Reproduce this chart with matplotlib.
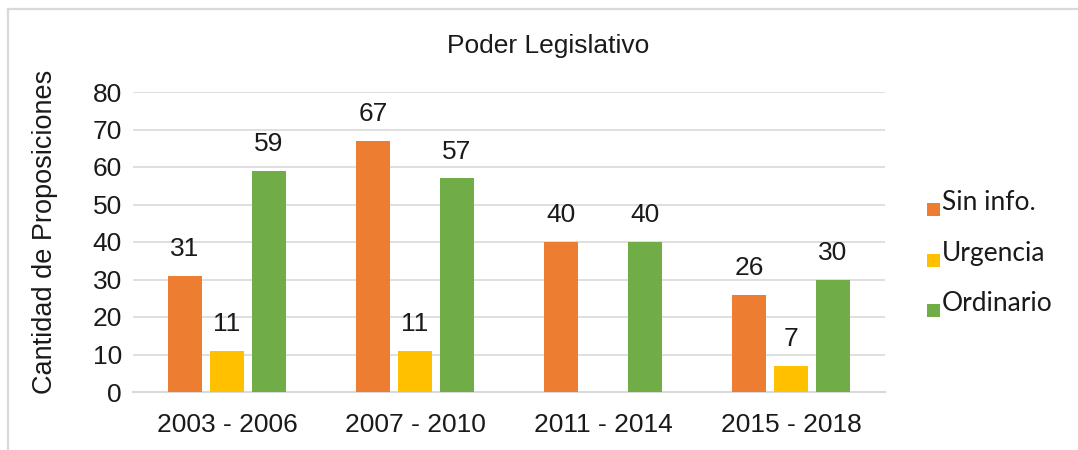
import numpy as np
import matplotlib
matplotlib.use("Agg")
import matplotlib.pyplot as plt
from matplotlib.lines import Line2D
from matplotlib.patches import Rectangle

# ---- data ----
categories = ["2003 - 2006", "2007 - 2010", "2011 - 2014", "2015 - 2018"]
series_names = ["Sin info.", "Urgencia", "Ordinario"]
sin_info = [31, 67, 40, 26]
urgencia = [11, 11, None, 7]
ordinario = [59, 57, 40, 30]
y_ticks = [0, 10, 20, 30, 40, 50, 60, 70, 80]
title = "Poder Legislativo"
y_label = "Cantidad de Proposiciones"

colors = ["#ED7D31", "#FFC000", "#70AD47"]
W, H = 1078, 450
fig = plt.figure(figsize=(W / 100, H / 100), dpi=100)
fig.patch.set_facecolor("white")

main_font = ["Liberation Sans", "DejaVu Sans"]
leg_font = ["Lato", "DejaVu Sans"]

ax = fig.add_axes([133 / W, 1 - 392 / H, (885 - 133) / W, 300 / H])
x = np.arange(len(categories))
width = 0.18
offsets = [-0.223, 0.0, 0.223]
for vals, off, col in zip([sin_info, urgencia, ordinario], offsets, colors):
    v = np.array([np.nan if a is None else a for a in vals], dtype=float)
    bars = ax.bar(x + off, np.nan_to_num(v), width, color=col, zorder=3)
    for xi, val in zip(x + off, v):
        if np.isnan(val):
            continue
        ax.annotate(f"{int(val)}", (xi, val), xytext=(0, 10.5), textcoords="offset points",
                    ha="center", va="bottom", fontsize=19, family=main_font, color="#1a1a1a")
    for b, val in zip(bars, v):
        if np.isnan(val):
            b.set_visible(False)

ax.set_xlim(-0.5, len(categories) - 0.5)
ax.set_ylim(0, 80)
ax.set_yticks(y_ticks)
ax.set_yticklabels([str(t) for t in y_ticks], fontsize=19, family=main_font, color="#1a1a1a")
ax.set_xticks(x)
ax.set_xticklabels(categories, fontsize=19, family=main_font, color="#1a1a1a")
ax.tick_params(axis="both", length=0)
ax.tick_params(axis="y", pad=8)
ax.tick_params(axis="x", pad=15)
ax.grid(axis="y", color="#d9d9d9", linewidth=1.2, zorder=0)
for s in ["top", "right", "left"]:
    ax.spines[s].set_visible(False)
ax.spines["bottom"].set_color("#d9d9d9")
ax.spines["bottom"].set_linewidth(1.5)
ax.set_facecolor("none")

fig.text(45 / W, 1 - 232 / H, y_label, rotation=90, ha="center", va="center",
         fontsize=19.5, family=main_font, color="#1a1a1a")
fig.text(548 / W, 1 - 46 / H, title, ha="center", va="center",
         fontsize=19, family=main_font, color="#1a1a1a")

# legend (manual, Excel-style)
baselines = [210, 261, 311]
for name, col, bl in zip(series_names, colors, baselines):
    fig.patches.append(Rectangle((927 / W, 1 - (bl + 6) / H), 13 / W, 13 / H,
                                 transform=fig.transFigure, facecolor=col, edgecolor="none"))
    fig.text(942 / W, 1 - bl / H, name, ha="left", va="baseline",
             fontsize=19, family=leg_font, color="#1a1a1a")

# frame (cropped border)
fig.add_artist(Line2D([8 / W, 8 / W], [0, 1 - 9 / H], transform=fig.transFigure,
                      color="#d9d9d9", linewidth=1.6))
fig.add_artist(Line2D([8 / W, 1], [1 - 9 / H, 1 - 9 / H], transform=fig.transFigure,
                      color="#d9d9d9", linewidth=1.6))

fig.savefig("out.png", dpi=100)
